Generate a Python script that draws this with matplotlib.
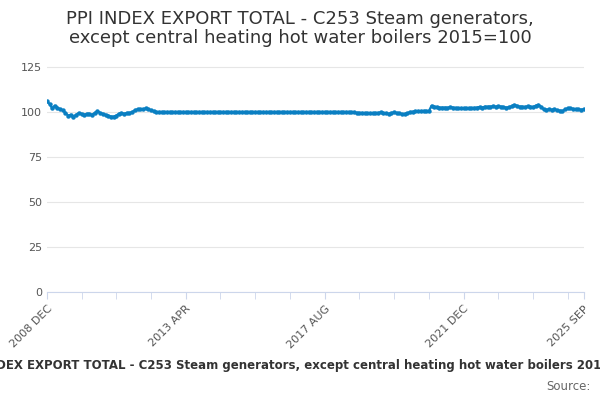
import matplotlib.pyplot as plt
import numpy as np
import pandas as pd

dates = pd.date_range("2008-12-01", "2025-09-01", freq="MS")

# monthly index values (2008 Dec .. 2025 Sep)
y2009 = [106.0, 104.5, 102.0, 103.5, 102.5, 101.5, 101.0, 99.5, 98.0, 98.5, 97.5, 98.5, 99.5]
y2010 = [99.0, 98.5, 99.0, 99.0, 98.5, 99.5, 100.5, 99.5, 99.0, 98.5, 98.0, 97.5]
y2011 = [97.5, 98.0, 99.0, 99.5, 99.0, 99.5, 99.5, 100.0, 101.0, 101.5, 101.5, 101.5]
y2012 = [102.0, 101.5, 101.0, 100.5, 100.0]
flat = [100.0] * 70
y2019 = [100.0, 100.0, 99.8, 99.8, 99.6, 99.5, 99.5, 99.4, 99.4, 99.3, 99.3, 99.5]
y2020 = [99.5, 99.8, 99.5, 99.3, 99.0, 99.5, 99.8, 99.5, 99.3, 98.8, 99.0, 99.3]
y2021 = [100.0, 100.2, 100.3, 100.5, 100.5, 100.6, 100.6, 100.5, 103.5, 103.0, 102.8, 102.5]
y2022 = [102.5, 102.5, 102.3, 102.8, 102.5, 102.3, 102.0, 102.0, 102.0, 102.2, 102.0, 102.2]
y2023 = [102.3, 102.5, 102.8, 102.5, 103.0, 103.0, 103.0, 103.2, 103.0, 103.2, 103.0, 102.8]
y2024 = [102.5, 102.7, 103.2, 104.0, 103.5, 103.0, 103.0, 102.8, 103.2, 103.0, 102.8, 103.5]
y2025 = [104.0, 103.0, 101.5, 101.3, 101.5, 101.3, 101.5, 101.0, 100.8, 100.5, 101.5, 102.0, 102.0,
         101.8, 101.5, 101.5, 101.3, 101.5, 101.0, 100.8, 100.5, 101.5, 102.0, 102.0]

values = y2009 + y2010 + y2011 + y2012 + flat + y2019 + y2020 + y2021 + y2022 + y2023 + y2024 + y2025
values = (values + [values[-1]] * len(dates))[:len(dates)]

tick_labels = ["2008 DEC", "2013 APR", "2017 AUG", "2021 DEC", "2025 SEP"]
tick_dates = pd.to_datetime(["2008-12-01", "2013-04-01", "2017-08-01", "2021-12-01", "2025-09-01"])

fig = plt.figure(figsize=(6, 4), dpi=100)
ax = fig.add_axes([0.078, 0.27, 0.895, 0.585])
ax.plot(dates, values, color="#0a7fc2", lw=1.6, marker="o", ms=2.2)
ax.set_ylim(0, 130)
ax.set_yticks([0, 25, 50, 75, 100, 125])
ax.set_xlim(dates[0], dates[-1])
ax.set_xticks(tick_dates)
ax.set_xticklabels(tick_labels, rotation=45, ha="right", rotation_mode="anchor")
minor = pd.date_range("2008-12-01", "2025-09-01", freq="13MS")
ax.set_xticks(minor, minor=True)
ax.tick_params(axis="x", which="both", length=5, color="#ccd6eb", labelsize=8, colors="#555555")
ax.tick_params(axis="y", length=0, labelsize=8, colors="#555555")
ax.grid(axis="y", color="#e6e6e6", lw=0.8)
ax.set_axisbelow(True)
for s in ["top", "right", "left"]:
    ax.spines[s].set_visible(False)
ax.spines["bottom"].set_color("#ccd6eb")

fig.text(0.5, 0.975, "PPI INDEX EXPORT TOTAL - C253 Steam generators,\nexcept central heating hot water boilers 2015=100",
         ha="center", va="top", fontsize=13, color="#333333", linespacing=1.1)
fig.text(0.5, 0.085, "PPI INDEX EXPORT TOTAL - C253 Steam generators, except central heating hot water boilers 2015=100",
         ha="center", va="center", fontsize=8.5, color="#333333", weight="bold")
fig.text(0.985, 0.035, "Source:", ha="right", va="center", fontsize=8.5, color="#666666")
fig.savefig("out.png")
